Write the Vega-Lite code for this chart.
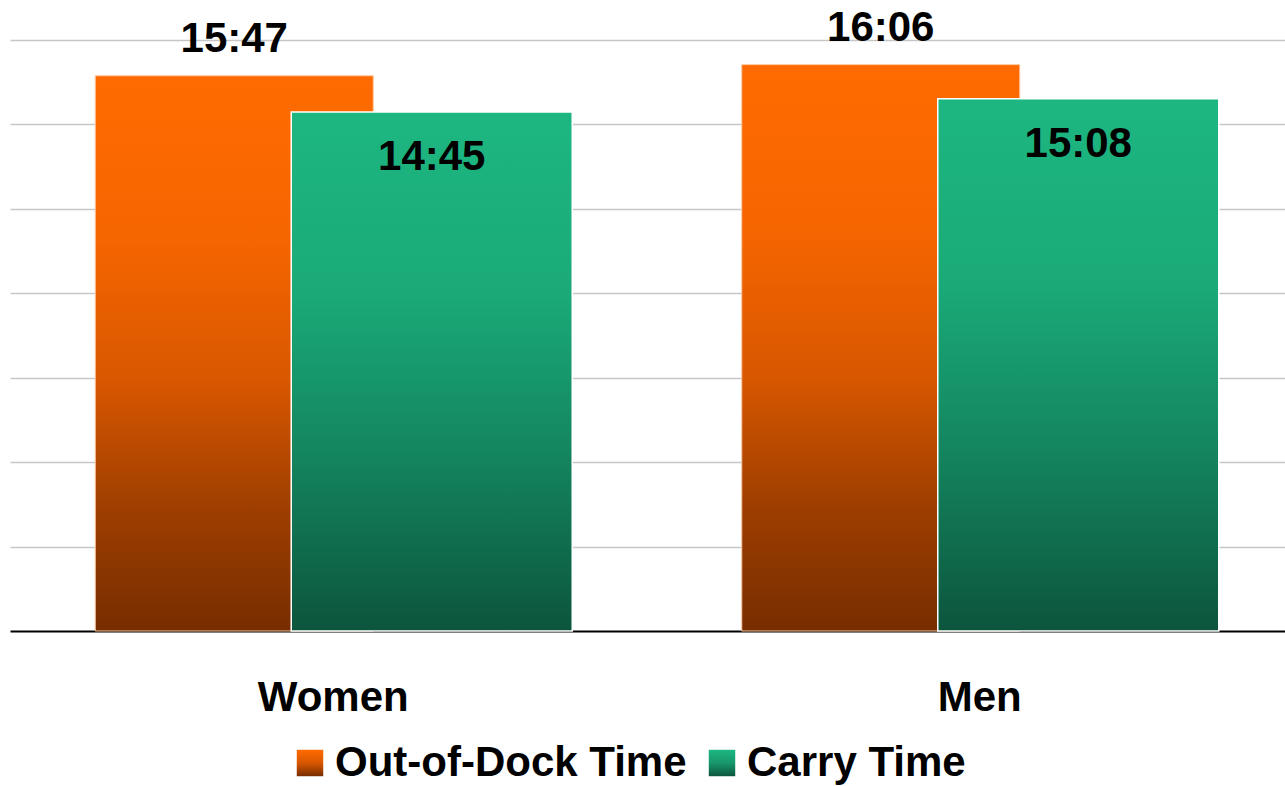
{
  "$schema": "https://vega.github.io/schema/vega-lite/v6.json",
  "width": 1275,
  "height": 591,
  "autosize": {"type": "none"},
  "padding": {"left": 10, "top": 40, "right": 0, "bottom": 155},
  "background": "white",
  "data": {
    "values": [
      {"group": "Women", "series": "Out-of-Dock Time", "seconds": 947, "label": "15:47"},
      {"group": "Women", "series": "Carry Time", "seconds": 885, "label": "14:45"},
      {"group": "Men", "series": "Out-of-Dock Time", "seconds": 966, "label": "16:06"},
      {"group": "Men", "series": "Carry Time", "seconds": 908, "label": "15:08"}
    ]
  },
  "encoding": {
    "x": {
      "field": "group",
      "type": "nominal",
      "sort": ["Women", "Men"],
      "scale": {"range": [0, 1293], "paddingInner": 0, "paddingOuter": 0},
      "axis": {
        "title": null,
        "ticks": false,
        "labelAngle": 0,
        "labelFont": "Liberation Sans",
        "labelFontWeight": "bold",
        "labelFontSize": 42,
        "labelColor": "black",
        "labelPadding": 46,
        "labelBaseline": "top",
        "domainColor": "black",
        "domainWidth": 2,
        "grid": false
      }
    },
    "y": {
      "field": "seconds",
      "type": "quantitative",
      "scale": {"domain": [0, 1008], "nice": false, "zero": true},
      "axis": {
        "title": null,
        "labels": false,
        "ticks": false,
        "domain": false,
        "grid": true,
        "gridColor": "#C6C6C6",
        "gridWidth": 1.5,
        "values": [144, 288, 432, 576, 720, 864, 1008]
      }
    }
  },
  "layer": [
    {
      "mark": {
        "type": "square", "filled": true, "opacity": 0, "size": 1,
        "fill": {"expr": "(datum.value || datum.series) === 'Carry Time' ? {gradient: 'linear', x1: 0, y1: 0, x2: 0, y2: 1, stops: [{offset: 0, color: '#1DB681'}, {offset: 0.5, color: '#17976B'}, {offset: 1, color: '#0C553D'}]} : {gradient: 'linear', x1: 0, y1: 0, x2: 0, y2: 1, stops: [{offset: 0, color: '#FF6B00'}, {offset: 0.5, color: '#D85700'}, {offset: 1, color: '#772D00'}]}"}
      },
      "encoding": {
        "stroke": {
          "field": "series",
          "type": "nominal",
          "scale": {
            "domain": ["Out-of-Dock Time", "Carry Time"],
            "range": ["#D85700", "#148660"]
          },
          "legend": {
            "title": null,
            "orient": "none",
            "legendX": 279,
            "legendY": 702,
            "direction": "horizontal",
            "symbolType": "square",
            "symbolSize": 700,
            "symbolStrokeWidth": 0,
            "symbolOpacity": 1,
            "labelFont": "Liberation Sans",
            "labelFontWeight": "bold",
            "labelFontSize": 42,
            "labelColor": "black",
            "labelLimit": 0,
            "labelOffset": 4,
            "columnPadding": 14,
            "padding": 0
          }
        }
      }
    },
    {
      "transform": [{"filter": "datum.series === 'Out-of-Dock Time'"}],
      "mark": {
        "type": "bar", "width": 278, "xOffset": -99, "stroke": "#FFC8A0", "strokeWidth": 1,
        "color": {"gradient": "linear", "x1": 0, "y1": 0, "x2": 0, "y2": 1, "stops": [
          {"offset": 0, "color": "#FF6B00"},
          {"offset": 0.3, "color": "#F56500"},
          {"offset": 0.55, "color": "#D85700"},
          {"offset": 0.78, "color": "#9E3E00"},
          {"offset": 1, "color": "#772D00"}
        ]}
      }
    },
    {
      "transform": [{"filter": "datum.series === 'Carry Time'"}],
      "mark": {
        "type": "bar", "width": 281, "xOffset": 98.5, "stroke": "white", "strokeWidth": 1.5,
        "color": {"gradient": "linear", "x1": 0, "y1": 0, "x2": 0, "y2": 1, "stops": [
          {"offset": 0, "color": "#1DB681"},
          {"offset": 0.35, "color": "#1AAA78"},
          {"offset": 0.65, "color": "#148660"},
          {"offset": 1, "color": "#0C553D"}
        ]}
      }
    },
    {
      "transform": [{"filter": "datum.series === 'Out-of-Dock Time'"}],
      "mark": {"type": "text", "xOffset": -99, "dy": -24, "baseline": "alphabetic", "align": "center", "font": "Liberation Sans", "fontWeight": "bold", "fontSize": 42, "color": "black"},
      "encoding": {"text": {"field": "label"}}
    },
    {
      "transform": [{"filter": "datum.series === 'Carry Time'"}],
      "mark": {"type": "text", "xOffset": 98.5, "dy": 58, "baseline": "alphabetic", "align": "center", "font": "Liberation Sans", "fontWeight": "bold", "fontSize": 42, "color": "black"},
      "encoding": {"text": {"field": "label"}}
    }
  ],
  "config": {"view": {"stroke": null}}
}
